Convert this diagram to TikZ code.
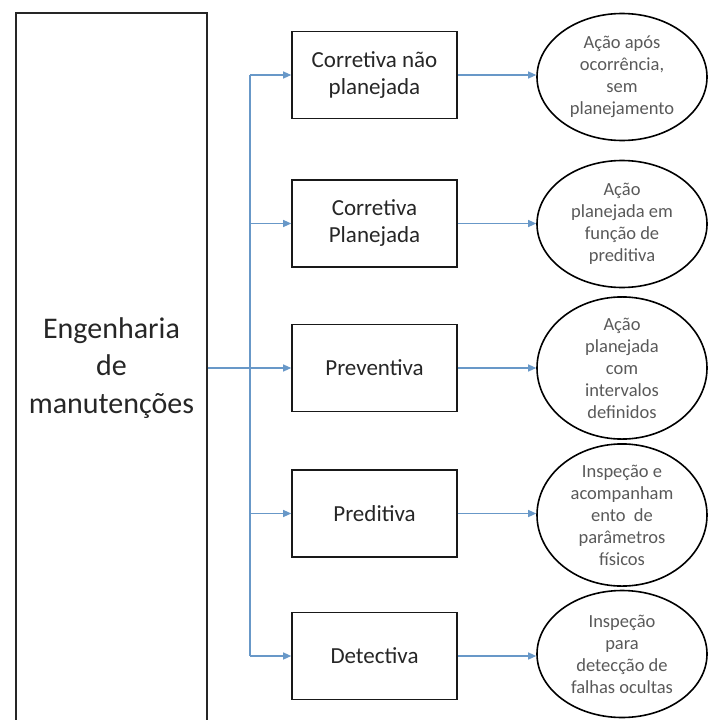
\documentclass[tikz,border=0pt]{standalone}
\usepackage{fontspec}
\setmainfont{Carlito}
\usetikzlibrary{shapes.geometric,arrows.meta}
\definecolor{arrblue}{RGB}{104,152,200}
\definecolor{boxtext}{RGB}{38,38,38}
\definecolor{elltext}{RGB}{89,89,89}
\tikzset{
  bigbox/.style={draw=black!85,line width=1.6pt,minimum width=191pt,minimum height=710pt,inner sep=0pt,
    align=center,text=boxtext,font=\fontsize{30}{37.5}\selectfont},
  typebox/.style={draw=black!90,line width=1.6pt,minimum width=165pt,minimum height=87pt,inner sep=0pt,
    align=center,text=boxtext,font=\fontsize{23}{27}\selectfont},
  descell/.style={ellipse,draw=black,line width=1.6pt,minimum width=170pt,minimum height=127pt,inner sep=0pt,
    align=center,text=elltext,font=\fontsize{18.5}{22}\selectfont},
  arr/.style={draw=arrblue,line width=1.2pt,-{Triangle[length=8pt,width=7pt]}},
  busline/.style={draw=arrblue,line width=1.2pt}
}
\begin{document}
\begin{tikzpicture}[x=1pt,y=-1pt]
\useasboundingbox (0,0) rectangle (709,720);
\node[bigbox] (big) at (111.5,368) {Engenharia\\de\\manutenções};
\node[typebox] (b1) at (374.5,75) {Corretiva não\\planejada};
\node[typebox] (b2) at (374.5,223.5) {Corretiva\\Planejada};
\node[typebox] (b3) at (374.5,368) {Preventiva};
\node[typebox] (b4) at (374.5,513.5) {Preditiva};
\node[typebox] (b5) at (374.5,656) {Detectiva};
\node[descell] (e1) at (622,77) {Ação após\\ocorrência,\\sem\\planejamento};
\node[descell] (e2) at (622,224) {Ação\\planejada em\\função de\\preditiva};
\node[descell] (e3) at (622,368) {Ação\\planejada\\com\\intervalos\\definidos};
\node[descell] (e4) at (622,515) {Inspeção e\\acompanham\\ento\ \ de\\parâmetros\\físicos};
\node[descell] (e5) at (622,654) {Inspeção\\para\\detecção de\\falhas ocultas};
\coordinate (bus) at (250,368);
\draw[busline] (bus |- b1.west) -- (bus |- b5.west);
\draw[arr] (big.east |- b3.west) -- (b3.west);
\foreach \i in {1,2,4,5} {
  \draw[arr] (bus |- b\i.west) -- (b\i.west);
}
\foreach \i in {1,...,5} {
  \draw[arr] (b\i.east) -- (b\i.east -| e\i.west);
}
\end{tikzpicture}
\end{document}
